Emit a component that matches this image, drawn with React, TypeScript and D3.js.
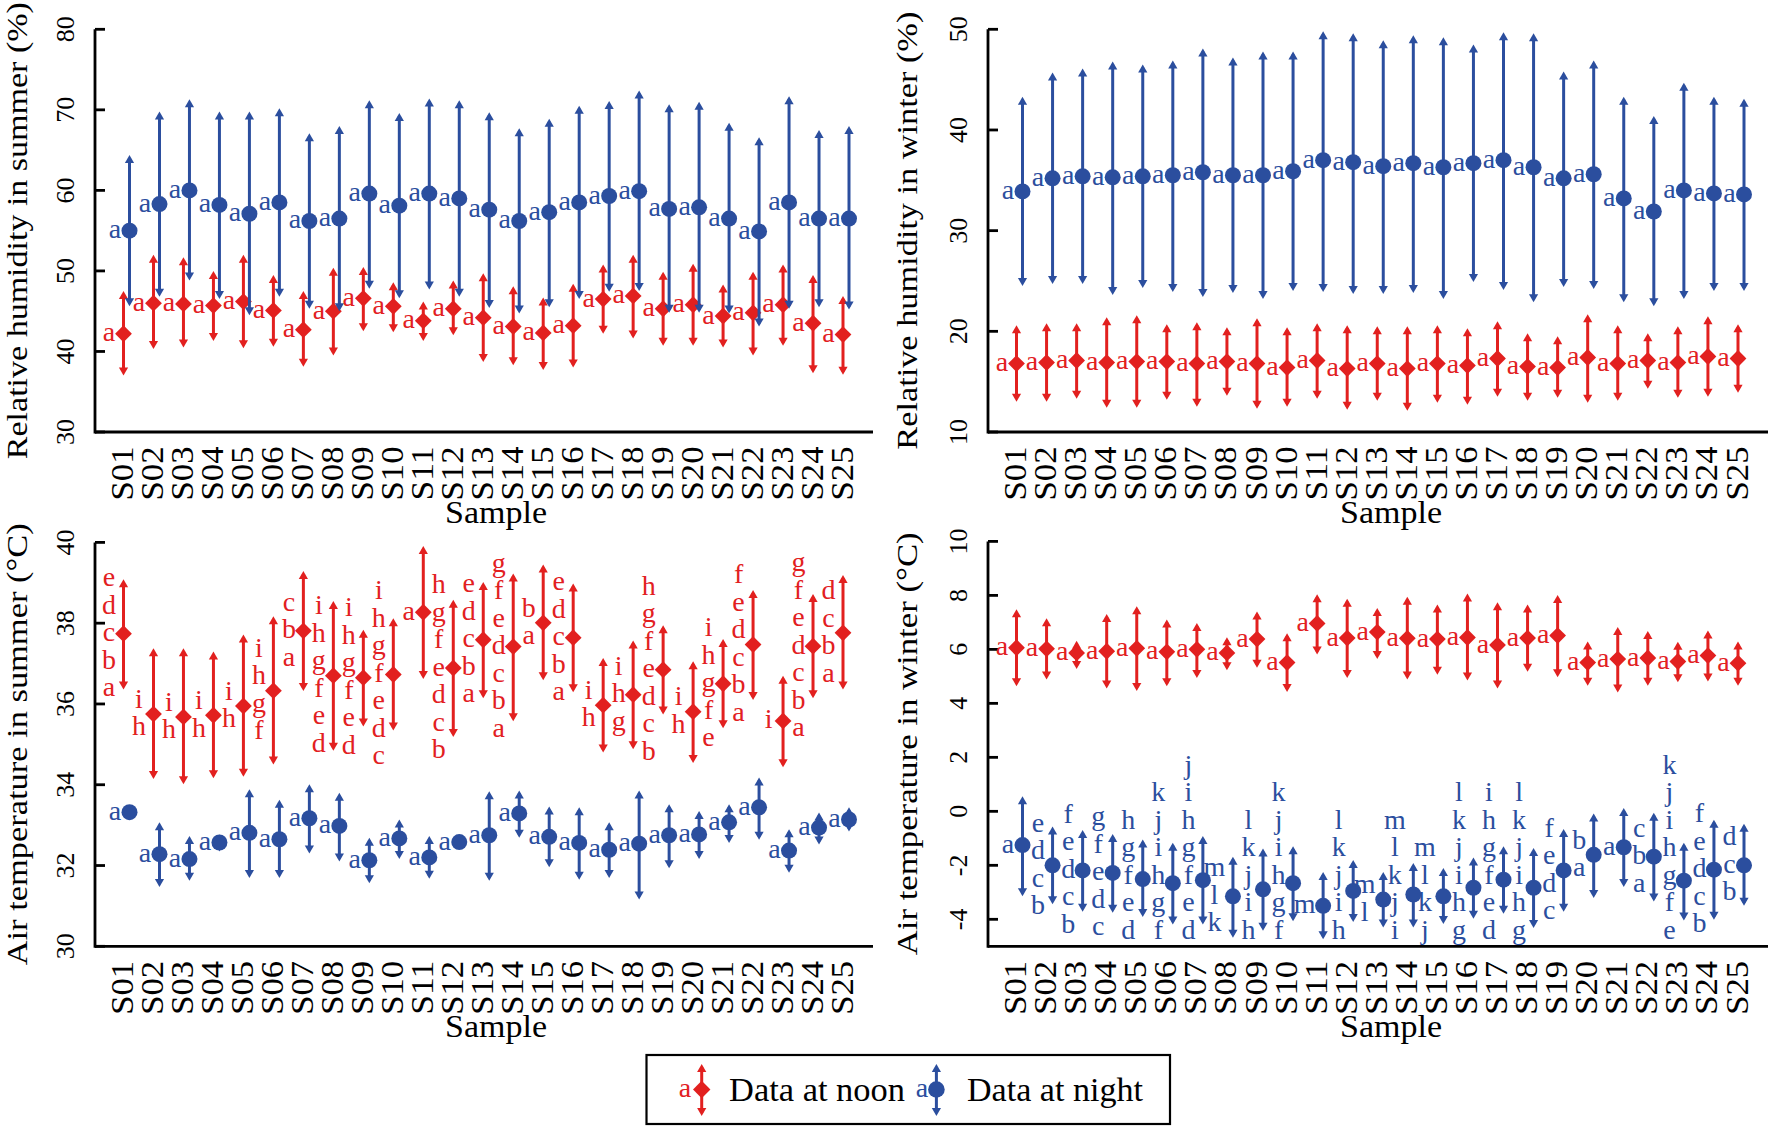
import React from "react";
import * as d3 from "d3";

const samples = ["S01","S02","S03","S04","S05","S06","S07","S08","S09","S10","S11","S12","S13","S14","S15","S16","S17","S18","S19","S20","S21","S22","S23","S24","S25"];

// (a) Relative humidity in summer (%)
const rhSummerNoonMean = [42.2,46.0,45.9,45.7,46.2,45.1,42.7,45.0,46.6,45.6,43.8,45.3,44.2,43.1,42.3,43.2,46.5,46.9,45.3,45.8,44.4,44.8,45.8,43.5,42.1];
const rhSummerNoonLow = [37.0,40.3,40.5,41.3,40.4,40.6,38.1,39.5,42.5,42.4,41.3,42.0,38.7,38.3,37.7,38.0,42.2,41.6,40.7,40.7,40.5,39.5,40.7,37.3,37.1];
const rhSummerNoonHigh = [47.5,52.0,51.7,50.0,52.0,49.5,47.5,50.4,50.5,48.6,46.2,48.8,49.7,48.1,46.7,48.4,50.8,52.0,49.9,50.9,48.3,49.9,50.8,49.5,46.9];
const rhSummerNightMean = [55.0,58.3,60.0,58.2,57.1,58.5,56.2,56.5,59.6,58.1,59.6,59.0,57.6,56.2,57.3,58.5,59.3,59.9,57.7,57.9,56.5,54.9,58.5,56.5,56.5];
const rhSummerNightLow = [45.6,46.8,48.8,46.5,44.5,46.8,45.3,45.0,47.8,46.6,47.7,46.8,45.4,44.7,45.5,46.5,47.4,47.5,44.8,44.8,44.7,43.1,45.3,45.5,45.2];
const rhSummerNightHigh = [64.4,69.8,71.3,69.8,69.8,70.2,67.1,68.0,71.2,69.6,71.4,71.2,69.7,67.7,68.9,70.5,71.1,72.4,70.7,71.0,68.4,66.6,71.7,67.5,68.0];
const rhSummerTicks = [30,40,50,60,70,80];

// (b) Relative humidity in winter (%)
const rhWinterNoonMean = [16.8,16.9,17.1,16.9,17.0,17.0,16.8,17.0,16.8,16.4,17.1,16.3,16.8,16.3,16.8,16.6,17.3,16.5,16.4,17.4,16.8,17.1,16.9,17.5,17.3];
const rhWinterNoonLow = [13.0,13.0,13.3,12.4,12.4,13.2,12.5,13.6,12.3,12.5,13.3,12.2,13.1,12.1,12.9,12.7,13.5,13.1,13.4,12.9,13.1,14.3,13.4,13.5,13.9];
const rhWinterNoonHigh = [20.6,20.8,20.8,21.4,21.6,20.7,20.9,20.4,21.3,20.4,20.8,20.6,20.5,20.5,20.6,20.3,21.0,19.8,19.5,21.7,20.6,19.8,20.5,21.5,20.7];
const rhWinterNightMean = [33.9,35.2,35.4,35.3,35.4,35.5,35.8,35.5,35.5,35.9,37.0,36.8,36.4,36.7,36.3,36.7,37.0,36.3,35.2,35.6,33.2,31.9,34.0,33.7,33.6];
const rhWinterNightLow = [24.5,24.7,24.7,23.6,24.3,23.9,23.4,23.8,23.2,24.0,23.9,23.7,23.7,23.8,23.2,24.9,24.1,22.9,24.4,24.2,22.9,22.5,23.2,24.0,24.0];
const rhWinterNightHigh = [43.3,45.7,46.1,46.8,46.5,46.9,48.1,47.2,47.8,47.8,49.8,49.6,48.9,49.4,49.2,48.5,49.7,49.6,45.8,46.9,43.3,41.4,44.7,43.3,43.1];
const rhWinterTicks = [10,20,30,40,50];

// (c) Air temperature in summer (°C)
const atSummerNoonMean = [37.74,35.75,35.68,35.72,35.95,36.33,37.81,36.70,36.65,36.73,38.27,36.89,37.59,37.42,38.01,37.64,35.97,36.23,36.85,35.81,36.50,37.47,35.58,37.43,37.76];
const atSummerNoonLow = [36.36,34.14,34.01,34.16,34.20,34.50,36.32,34.84,35.44,35.34,36.62,35.18,36.14,35.57,36.59,36.29,34.80,34.88,35.74,34.54,35.40,36.10,34.43,36.14,36.36];
const atSummerNoonHigh = [39.09,37.38,37.38,37.30,37.72,38.17,39.29,38.55,37.84,38.12,39.91,38.58,39.02,39.23,39.45,38.98,37.14,37.57,37.95,37.06,37.61,38.82,36.70,38.72,39.19];
const atSummerNightMean = [33.32,32.28,32.16,32.57,32.81,32.65,33.17,32.98,32.13,32.67,32.20,32.58,32.75,33.29,32.71,32.56,32.39,32.54,32.75,32.77,33.07,33.44,32.37,32.94,33.14];
const atSummerNightLow = [33.14,31.47,31.62,32.35,31.69,31.69,32.30,32.10,31.56,32.16,31.67,32.50,31.62,32.69,31.96,31.65,31.69,31.16,31.93,32.16,32.56,32.64,31.82,32.52,32.84];
const atSummerNightHigh = [33.50,33.07,32.73,32.77,33.89,33.63,34.01,33.80,32.69,33.14,32.73,32.66,33.84,33.86,33.46,33.44,33.07,33.86,33.52,33.35,33.52,34.18,32.90,33.31,33.44];
const atSummerNoonLetters = ["edcba","ih","ih","ih","ih","ihgf","cba","ihgfed","ihgfed","ihgfedc","a","hgfedcb","edcba","gfedcba","ba","edcba","ih","ihg","hgfedcb","ih","ihgfe","fedcba","i","gfedcba","dcba"];
const atSummerTicks = [30,32,34,36,38,40];

// (d) Air temperature in winter (°C)
const atWinterNoonMean = [6.06,6.02,5.87,5.93,6.04,5.91,6.00,5.87,6.38,5.51,6.96,6.42,6.64,6.41,6.38,6.44,6.16,6.42,6.51,5.51,5.64,5.68,5.55,5.77,5.49];
const atWinterNoonLow = [4.63,4.88,5.27,4.55,4.46,4.63,4.94,5.23,5.32,4.42,5.81,4.94,5.64,4.88,5.06,4.85,4.55,5.17,4.97,4.65,4.40,4.65,4.78,4.81,4.65];
const atWinterNoonHigh = [7.49,7.15,6.32,7.31,7.60,7.11,6.98,6.45,7.40,6.60,8.04,7.88,7.53,7.95,7.66,8.07,7.75,7.66,8.01,6.29,6.83,6.68,6.28,6.70,6.29];
const atWinterNightMean = [-1.25,-2.00,-2.19,-2.28,-2.51,-2.66,-2.55,-3.15,-2.89,-2.66,-3.50,-2.95,-3.27,-3.08,-3.15,-2.83,-2.53,-2.83,-2.19,-1.61,-1.33,-1.68,-2.57,-2.16,-2.00];
const atWinterNightLow = [-3.15,-3.44,-3.72,-3.76,-3.91,-4.19,-4.19,-4.68,-4.42,-4.07,-4.74,-4.10,-4.30,-4.30,-4.17,-3.98,-3.79,-4.32,-3.72,-3.21,-2.80,-3.34,-4.04,-4.02,-3.50];
const atWinterNightHigh = [0.56,-0.56,-0.69,-0.84,-1.04,-1.16,-0.91,-1.68,-1.38,-1.29,-2.25,-1.80,-2.25,-1.91,-2.10,-1.71,-1.29,-1.36,-0.65,-0.08,0.12,-0.05,-1.16,-0.31,-0.46];
const atWinterNightLetters = ["a","edcb","fedcb","gfedc","hgfed","kjihgf","jihgfed","mlk","lkjih","kjihgf","m","lkjih","ml","mlkji","mlkj","lkjihg","ihgfed","lkjihg","fedc","ba","a","cba","kjihgfe","fedcb","dcb"];
const atWinterTicks = [-4,-2,0,2,4,6,8,10];

const allA = samples.map(() => "a");

const legendLabels = ["Data at noon", "Data at night"];

const RED = "#E2201F";
const BLUE = "#2B4E9E";
const FONT = "Liberation Serif, Times New Roman, DejaVu Serif, serif";

type Shape = "diamond" | "circle";
interface SeriesDef { mean: number[]; low: number[]; high: number[]; letters: string[]; color: string; shape: Shape; dx: number; }
interface PanelDef {
  x0: number; x1: number; yTop: number; yBottom: number;
  domain: [number, number]; ticks: number[];
  title: string; titleLen: number; titleX: number; sampleX: number;
  series: SeriesDef[];
}

const noon = (mean: number[], low: number[], high: number[], letters: string[]): SeriesDef =>
  ({ mean, low, high, letters, color: RED, shape: "diamond", dx: -3 });
const night = (mean: number[], low: number[], high: number[], letters: string[]): SeriesDef =>
  ({ mean, low, high, letters, color: BLUE, shape: "circle", dx: 3 });

const panels: PanelDef[] = [
  { x0: 95, x1: 873, yTop: 29.3, yBottom: 432, domain: [30, 80], ticks: rhSummerTicks,
    title: "Relative humidity in summer (%)", titleLen: 457, titleX: 27, sampleX: 496,
    series: [noon(rhSummerNoonMean, rhSummerNoonLow, rhSummerNoonHigh, allA), night(rhSummerNightMean, rhSummerNightLow, rhSummerNightHigh, allA)] },
  { x0: 988, x1: 1768, yTop: 29.3, yBottom: 432, domain: [10, 50], ticks: rhWinterTicks,
    title: "Relative humidity in winter (%)", titleLen: 438, titleX: 917, sampleX: 1391,
    series: [noon(rhWinterNoonMean, rhWinterNoonLow, rhWinterNoonHigh, allA), night(rhWinterNightMean, rhWinterNightLow, rhWinterNightHigh, allA)] },
  { x0: 95, x1: 873, yTop: 542.4, yBottom: 946.3, domain: [30, 40], ticks: atSummerTicks,
    title: "Air temperature in summer (\u00B0C)", titleLen: 442, titleX: 27, sampleX: 496,
    series: [noon(atSummerNoonMean, atSummerNoonLow, atSummerNoonHigh, atSummerNoonLetters), night(atSummerNightMean, atSummerNightLow, atSummerNightHigh, allA)] },
  { x0: 988, x1: 1768, yTop: 541.4, yBottom: 946.3, domain: [-5, 10], ticks: atWinterTicks,
    title: "Air temperature in winter (\u00B0C)", titleLen: 423, titleX: 917, sampleX: 1391,
    series: [noon(atWinterNoonMean, atWinterNoonLow, atWinterNoonHigh, allA), night(atWinterNightMean, atWinterNightLow, atWinterNightHigh, atWinterNightLetters)] },
];

const LETTER_SIZE = 28;
const LINE = 27.5;

function Marker({ x, y, shape, color, size = 8 }: { x: number; y: number; shape: Shape; color: string; size?: number }) {
  if (shape === "circle") return <circle cx={x} cy={y} r={size} fill={color} />;
  const d = size * 1.05;
  return <path d={`M${x},${y - d}L${x + d},${y}L${x},${y + d}L${x - d},${y}Z`} fill={color} />;
}

function ErrorBar({ x, yHi, yLo, color }: { x: number; yHi: number; yLo: number; color: string }) {
  const ah = 8, aw = 4.6;
  return (
    <g>
      <line x1={x} x2={x} y1={yHi + 3} y2={yLo - 3} stroke={color} strokeWidth={3} />
      <path d={`M${x},${yHi}L${x - aw},${yHi + ah}L${x + aw},${yHi + ah}Z`} fill={color} />
      <path d={`M${x},${yLo}L${x - aw},${yLo - ah}L${x + aw},${yLo - ah}Z`} fill={color} />
    </g>
  );
}

function Panel({ p }: { p: PanelDef }) {
  const xs = d3.scalePoint<string>().domain(samples).range([p.x0 + 31.5, p.x1 - 27]);
  const ys = d3.scaleLinear().domain(p.domain).range([p.yBottom, p.yTop]);
  const yMid = (p.yTop + p.yBottom) / 2;
  const tf = { fontFamily: FONT };
  return (
    <g>
      <line x1={p.x0} x2={p.x1} y1={p.yBottom} y2={p.yBottom} stroke="#000" strokeWidth={2.8} />
      <line x1={p.x0} x2={p.x0} y1={ys(p.domain[1])} y2={p.yBottom + 1.4} stroke="#000" strokeWidth={2.8} />
      {p.ticks.map((t) => (
        <g key={t}>
          <line x1={p.x0} x2={p.x0 + 10} y1={ys(t)} y2={ys(t)} stroke="#000" strokeWidth={2.8} />
          <text transform={`translate(${p.x0 - 29.3},${ys(t)}) rotate(-90)`} textAnchor="middle" dominantBaseline="central"
            fontSize={26} style={tf} fill="#000">{t}</text>
        </g>
      ))}
      {samples.map((s) => (
        <text key={s} transform={`translate(${(xs(s) as number) - 4},${p.yBottom + 14.5}) rotate(-90)`} textAnchor="end"
          dominantBaseline="central" fontSize={31} style={tf} fill="#000" textLength={54} lengthAdjust="spacingAndGlyphs">{s}</text>
      ))}
      <text x={p.sampleX} y={p.yBottom + 91} textAnchor="middle" fontSize={31} style={tf} fill="#000"
        textLength={102} lengthAdjust="spacingAndGlyphs">Sample</text>
      <text transform={`translate(${p.titleX},${yMid}) rotate(-90)`} textAnchor="middle" fontSize={30} style={tf}
        fill="#000" textLength={p.titleLen} lengthAdjust="spacingAndGlyphs">{p.title}</text>
      {p.series.map((se, si) => (
        <g key={si}>
          {samples.map((s, i) => {
            const x = (xs(s) as number) + se.dx;
            const ym = ys(se.mean[i]);
            return (
              <g key={s}>
                <ErrorBar x={x} yHi={ys(se.high[i])} yLo={ys(se.low[i])} color={se.color} />
                <Marker x={x} y={ym} shape={se.shape} color={se.color} />
              </g>
            );
          })}
        </g>
      ))}
      {p.series.map((se, si) => (
        <g key={"l" + si}>
          {samples.map((s, i) => {
            const x = (xs(s) as number) + se.dx;
            const ym = ys(se.mean[i]);
            const letters = se.letters[i].split("");
            const n = letters.length;
            let top = ym - ((n - 1) * LINE) / 2;
            const maxBottom = p.yBottom - 15;
            if (top + (n - 1) * LINE > maxBottom) top = maxBottom - (n - 1) * LINE;
            const lx = x - 14.5 - (se.letters[i].includes("m") ? 4 : 0);
            return letters.map((c, k) => (
              <text key={s + k} x={lx} y={top + k * LINE + 7.5} textAnchor="middle" fontSize={LETTER_SIZE}
                style={tf} fill={se.color}>{c}</text>
            ));
          })}
        </g>
      ))}
    </g>
  );
}

function Legend() {
  const boxX = 646.5, boxY = 1055, boxW = 523.5, boxH = 69;
  const cy = 1089.5;
  const tf = { fontFamily: FONT };
  const items = [
    { label: legendLabels[0], color: RED, shape: "diamond" as Shape, ax: 685, mx: 701.7, tx: 729 },
    { label: legendLabels[1], color: BLUE, shape: "circle" as Shape, ax: 922, mx: 936.4, tx: 967 },
  ];
  return (
    <g>
      <rect x={boxX} y={boxY} width={boxW} height={boxH} fill="none" stroke="#000" strokeWidth={2.2} />
      {items.map((it) => (
        <g key={it.label}>
          <text x={it.ax} y={cy + 7.5} textAnchor="middle" fontSize={LETTER_SIZE} style={tf} fill={it.color}>a</text>
          <ErrorBar x={it.mx} yHi={1064} yLo={1116} color={it.color} />
          <Marker x={it.mx} y={cy} shape={it.shape} color={it.color} size={8.3} />
          <text x={it.tx} y={1101} fontSize={34} style={tf} fill="#000" textLength={176}
            lengthAdjust="spacingAndGlyphs">{it.label}</text>
        </g>
      ))}
    </g>
  );
}

export default function App() {
  return (
    <svg width={1769} height={1126} viewBox="0 0 1769 1126"
      style={{ position: "absolute", left: 0, top: 0, background: "#fff" }}>
      <rect x={0} y={0} width={1769} height={1126} fill="#fff" />
      {panels.map((p, i) => <Panel key={i} p={p} />)}
      <Legend />
    </svg>
  );
}
